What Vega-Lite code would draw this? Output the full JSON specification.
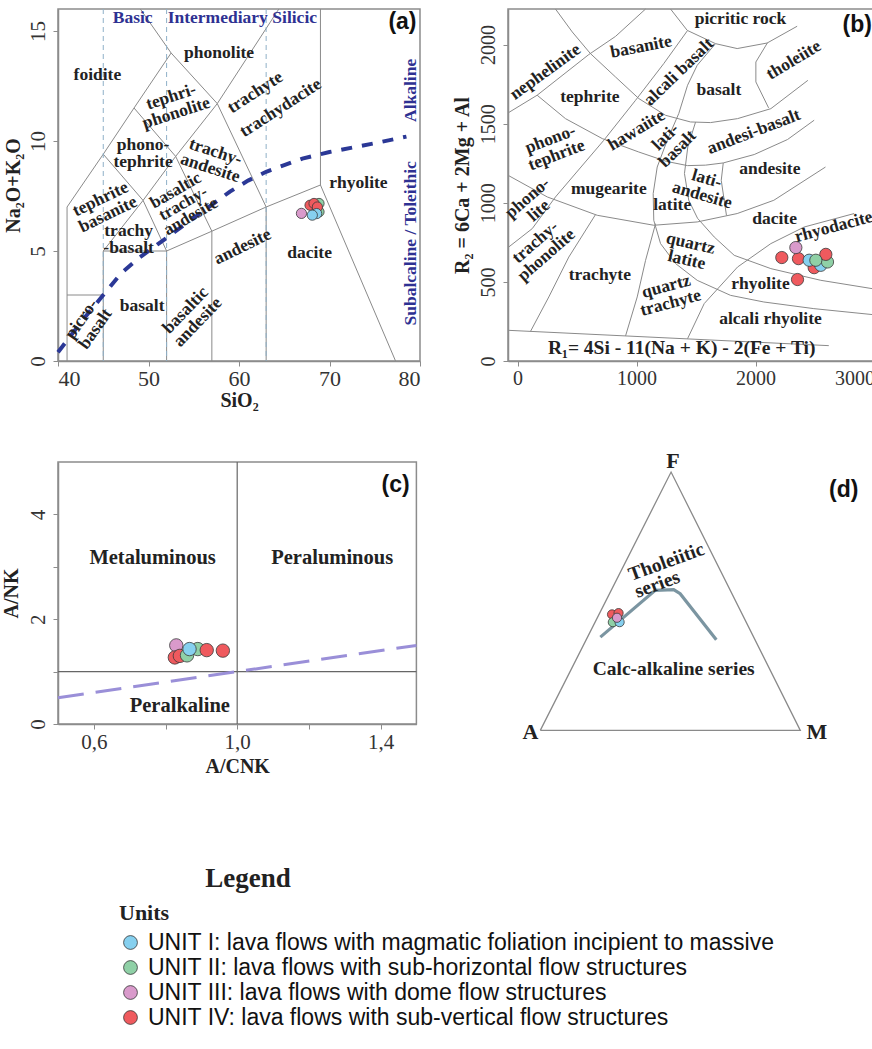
{
  "$schema": "https://vega.github.io/schema/vega-lite/v6.json",
  "background": "white",
  "padding": {"left": 0, "top": 6, "right": 0, "bottom": 0},
  "title": {"text": "Legend", "orient": "bottom", "anchor": "start", "dx": 205, "offset": -164, "font": "Liberation Serif", "fontSize": 27, "fontWeight": "bold", "color": "#222"},
  "config": {
    "font": "Liberation Serif",
    "view": {"stroke": "#8c8c8c", "strokeWidth": 1.5},
    "axis": {"grid": false, "domainColor": "#8c8c8c", "domainWidth": 1.5, "tickColor": "#8c8c8c", "tickSize": 5, "labelFont": "Liberation Serif", "labelFontSize": 20, "labelColor": "#333", "titleFont": "Liberation Serif", "titleFontSize": 20, "titleFontWeight": "bold", "titleColor": "#222"},
    "axisY": {"labelAngle": 270, "labelAlign": "center", "labelBaseline": "bottom"},
    "legend": {"orient": "none", "legendX": 61, "legendY": 894, "padding": 0, "titleFont": "Liberation Serif", "titleFontSize": 22, "titleFontWeight": "bold", "titleColor": "#222", "titlePadding": 6, "labelFont": "Liberation Sans", "labelFontSize": 23, "labelColor": "#111", "labelLimit": 900, "labelOffset": 6, "symbolType": "circle", "symbolSize": 190, "symbolStrokeColor": "#333", "symbolStrokeWidth": 1, "symbolOpacity": 1, "rowPadding": 1},
    "range": {"category": ["#86d0ef", "#8fd0a6", "#d99acb", "#ef5a5e"]},
    "point": {"filled": true, "opacity": 1, "stroke": "#3a3a3a", "strokeWidth": 0.8, "shape": "circle"},
    "text": {"font": "Liberation Serif", "fontWeight": "bold", "fontSize": 18, "color": "#222", "align": "center", "baseline": "middle", "lineBreak": "\n", "lineHeight": 17}
  },
  "datasets": {
    "tas_lines": [
      {"seg": "p1", "x": 41, "y": 0}, {"seg": "p1", "x": 41, "y": 7},
      {"seg": "p2", "x": 41, "y": 3}, {"seg": "p2", "x": 45, "y": 3},
      {"seg": "p3", "x": 45, "y": 0}, {"seg": "p3", "x": 45, "y": 5}, {"seg": "p3", "x": 52, "y": 5}, {"seg": "p3", "x": 52, "y": 0},
      {"seg": "p4", "x": 41, "y": 7}, {"seg": "p4", "x": 45, "y": 9.4}, {"seg": "p4", "x": 48.4, "y": 11.5}, {"seg": "p4", "x": 52.5, "y": 14}, {"seg": "p4", "x": 49.1, "y": 16},
      {"seg": "p5", "x": 45, "y": 5}, {"seg": "p5", "x": 49.4, "y": 7.3}, {"seg": "p5", "x": 52, "y": 5},
      {"seg": "p6", "x": 45, "y": 9.4}, {"seg": "p6", "x": 49.4, "y": 7.3}, {"seg": "p6", "x": 53, "y": 9.3}, {"seg": "p6", "x": 57.6, "y": 11.7}, {"seg": "p6", "x": 64.4, "y": 16},
      {"seg": "p7", "x": 48.4, "y": 11.5}, {"seg": "p7", "x": 53, "y": 9.3}, {"seg": "p7", "x": 57, "y": 5.9},
      {"seg": "p8", "x": 52.5, "y": 14}, {"seg": "p8", "x": 57.6, "y": 11.7}, {"seg": "p8", "x": 63, "y": 7},
      {"seg": "p9", "x": 52, "y": 5}, {"seg": "p9", "x": 57, "y": 5.9}, {"seg": "p9", "x": 63, "y": 7}, {"seg": "p9", "x": 69, "y": 8}, {"seg": "p9", "x": 77.3, "y": 0},
      {"seg": "p10", "x": 57, "y": 0}, {"seg": "p10", "x": 57, "y": 5.9},
      {"seg": "p11", "x": 63, "y": 0}, {"seg": "p11", "x": 63, "y": 7},
      {"seg": "p12", "x": 69, "y": 8}, {"seg": "p12", "x": 69, "y": 16}
    ],
    "alk_line": [
      {"x": 40, "y": 0.4}, {"x": 43, "y": 2.0}, {"x": 45, "y": 3.0}, {"x": 47, "y": 4.0}, {"x": 49, "y": 4.7}, {"x": 51, "y": 5.3}, {"x": 53, "y": 5.9}, {"x": 55, "y": 6.5}, {"x": 57, "y": 7.1}, {"x": 59, "y": 7.7}, {"x": 61, "y": 8.2}, {"x": 63, "y": 8.6}, {"x": 65, "y": 8.9}, {"x": 67, "y": 9.2}, {"x": 70, "y": 9.5}, {"x": 75, "y": 9.9}, {"x": 78.5, "y": 10.2}
    ],
    "r1r2_lines": [
      {"seg": "L1", "x": -80, "y": 1568}, {"seg": "L1", "x": 165, "y": 1680}, {"seg": "L1", "x": 599, "y": 1937}, {"seg": "L1", "x": 824, "y": 2052}, {"seg": "L1", "x": 1076, "y": 2225},
      {"seg": "L2", "x": 319, "y": 2225}, {"seg": "L2", "x": 460, "y": 2080}, {"seg": "L2", "x": 613, "y": 1943}, {"seg": "L2", "x": 824, "y": 1795}, {"seg": "L2", "x": 1019, "y": 1659}, {"seg": "L2", "x": 1244, "y": 1553}, {"seg": "L2", "x": 1454, "y": 1511}, {"seg": "L2", "x": 1622, "y": 1507}, {"seg": "L2", "x": 1849, "y": 1532}, {"seg": "L2", "x": 2129, "y": 1595}, {"seg": "L2", "x": 2440, "y": 1774},
      {"seg": "L3", "x": 165, "y": 1680}, {"seg": "L3", "x": 403, "y": 1532}, {"seg": "L3", "x": 712, "y": 1406}, {"seg": "L3", "x": 1019, "y": 1321}, {"seg": "L3", "x": 1250, "y": 1262}, {"seg": "L3", "x": 1429, "y": 1235}, {"seg": "L3", "x": 1580, "y": 1238}, {"seg": "L3", "x": 1729, "y": 1252}, {"seg": "L3", "x": 1989, "y": 1305}, {"seg": "L3", "x": 2269, "y": 1400}, {"seg": "L3", "x": 2493, "y": 1522},
      {"seg": "L4", "x": -80, "y": 1174}, {"seg": "L4", "x": 250, "y": 1037}, {"seg": "L4", "x": 670, "y": 921}, {"seg": "L4", "x": 1145, "y": 858}, {"seg": "L4", "x": 1510, "y": 879}, {"seg": "L4", "x": 1846, "y": 932}, {"seg": "L4", "x": 2154, "y": 1016}, {"seg": "L4", "x": 2588, "y": 1226},
      {"seg": "D", "x": -80, "y": 717}, {"seg": "D", "x": 124, "y": 837}, {"seg": "D", "x": 319, "y": 1037}, {"seg": "D", "x": 725, "y": 1395}, {"seg": "D", "x": 992, "y": 1648}, {"seg": "D", "x": 1229, "y": 1880}, {"seg": "D", "x": 1426, "y": 2086},
      {"seg": "L6", "x": 1286, "y": 2225}, {"seg": "L6", "x": 1426, "y": 2090}, {"seg": "L6", "x": 1664, "y": 2006}, {"seg": "L6", "x": 1846, "y": 1975}, {"seg": "L6", "x": 2098, "y": 2010}, {"seg": "L6", "x": 2350, "y": 2116},
      {"seg": "L7", "x": 2101, "y": 2012}, {"seg": "L7", "x": 2003, "y": 1890}, {"seg": "L7", "x": 2003, "y": 1764}, {"seg": "L7", "x": 2110, "y": 1600},
      {"seg": "C1", "x": 1664, "y": 2006}, {"seg": "C1", "x": 1510, "y": 1869}, {"seg": "C1", "x": 1429, "y": 1743}, {"seg": "C1", "x": 1355, "y": 1564}, {"seg": "C1", "x": 1258, "y": 1395}, {"seg": "C1", "x": 1174, "y": 1226}, {"seg": "C1", "x": 1140, "y": 1058}, {"seg": "C1", "x": 1145, "y": 889}, {"seg": "C1", "x": 1202, "y": 742}, {"seg": "C1", "x": 1328, "y": 616}, {"seg": "C1", "x": 1510, "y": 510}, {"seg": "C1", "x": 1790, "y": 415}, {"seg": "C1", "x": 2070, "y": 373}, {"seg": "C1", "x": 2490, "y": 331}, {"seg": "C1", "x": 3000, "y": 292},
      {"seg": "C2", "x": 1496, "y": 1510}, {"seg": "C2", "x": 1431, "y": 1353}, {"seg": "C2", "x": 1403, "y": 1185}, {"seg": "C2", "x": 1439, "y": 1016}, {"seg": "C2", "x": 1513, "y": 902}, {"seg": "C2", "x": 1653, "y": 784}, {"seg": "C2", "x": 1821, "y": 668}, {"seg": "C2", "x": 2129, "y": 584}, {"seg": "C2", "x": 2549, "y": 510}, {"seg": "C2", "x": 3000, "y": 455},
      {"seg": "C4", "x": 1729, "y": 1252}, {"seg": "C4", "x": 1712, "y": 1142}, {"seg": "C4", "x": 1756, "y": 920},
      {"seg": "C5", "x": 1429, "y": 141}, {"seg": "C5", "x": 1569, "y": 363}, {"seg": "C5", "x": 1849, "y": 594}, {"seg": "C5", "x": 2129, "y": 742}, {"seg": "C5", "x": 2409, "y": 847}, {"seg": "C5", "x": 2829, "y": 932},
      {"seg": "C6", "x": 908, "y": 159}, {"seg": "C6", "x": 1006, "y": 405}, {"seg": "C6", "x": 1076, "y": 636}, {"seg": "C6", "x": 1160, "y": 868},
      {"seg": "C7", "x": 109, "y": 187}, {"seg": "C7", "x": 263, "y": 405}, {"seg": "C7", "x": 431, "y": 657}, {"seg": "C7", "x": 655, "y": 925},
      {"seg": "B", "x": -80, "y": 194}, {"seg": "B", "x": 2616, "y": 97}
    ],
    "samples_a": [
      {"unit": "UNIT II: lava flows with sub-horizontal flow structures", "x": 68.84, "y": 7.16},
      {"unit": "UNIT II: lava flows with sub-horizontal flow structures", "x": 68.84, "y": 6.78},
      {"unit": "UNIT IV: lava flows with sub-vertical flow structures", "x": 67.85, "y": 7.08},
      {"unit": "UNIT IV: lava flows with sub-vertical flow structures", "x": 68.29, "y": 7.16},
      {"unit": "UNIT IV: lava flows with sub-vertical flow structures", "x": 68.66, "y": 7.0},
      {"unit": "UNIT III: lava flows with dome flow structures", "x": 66.9, "y": 6.71},
      {"unit": "UNIT I: lava flows with magmatic foliation incipient to massive", "x": 68.58, "y": 6.7},
      {"unit": "UNIT I: lava flows with magmatic foliation incipient to massive", "x": 68.1, "y": 6.63}
    ],
    "samples_b": [
      {"unit": "UNIT IV: lava flows with sub-vertical flow structures", "x": 2493, "y": 590},
      {"unit": "UNIT I: lava flows with magmatic foliation incipient to massive", "x": 2549, "y": 605},
      {"unit": "UNIT II: lava flows with sub-horizontal flow structures", "x": 2605, "y": 626},
      {"unit": "UNIT IV: lava flows with sub-vertical flow structures", "x": 2591, "y": 674},
      {"unit": "UNIT IV: lava flows with sub-vertical flow structures", "x": 2221, "y": 654},
      {"unit": "UNIT IV: lava flows with sub-vertical flow structures", "x": 2361, "y": 647},
      {"unit": "UNIT III: lava flows with dome flow structures", "x": 2339, "y": 717},
      {"unit": "UNIT I: lava flows with magmatic foliation incipient to massive", "x": 2451, "y": 637},
      {"unit": "UNIT II: lava flows with sub-horizontal flow structures", "x": 2507, "y": 637},
      {"unit": "UNIT IV: lava flows with sub-vertical flow structures", "x": 2353, "y": 515}
    ],
    "samples_c": [
      {"unit": "UNIT III: lava flows with dome flow structures", "x": 0.83, "y": 1.5},
      {"unit": "UNIT IV: lava flows with sub-vertical flow structures", "x": 0.826, "y": 1.27},
      {"unit": "UNIT IV: lava flows with sub-vertical flow structures", "x": 0.84, "y": 1.3},
      {"unit": "UNIT II: lava flows with sub-horizontal flow structures", "x": 0.86, "y": 1.31},
      {"unit": "UNIT II: lava flows with sub-horizontal flow structures", "x": 0.89, "y": 1.43},
      {"unit": "UNIT IV: lava flows with sub-vertical flow structures", "x": 0.915, "y": 1.41},
      {"unit": "UNIT IV: lava flows with sub-vertical flow structures", "x": 0.96, "y": 1.4},
      {"unit": "UNIT I: lava flows with magmatic foliation incipient to massive", "x": 0.867, "y": 1.43}
    ],
    "samples_d": [
      {"unit": "UNIT IV: lava flows with sub-vertical flow structures", "x": 27.6, "y": 44.9},
      {"unit": "UNIT IV: lava flows with sub-vertical flow structures", "x": 30.1, "y": 45.4},
      {"unit": "UNIT II: lava flows with sub-horizontal flow structures", "x": 27.9, "y": 41.9},
      {"unit": "UNIT I: lava flows with magmatic foliation incipient to massive", "x": 30.5, "y": 41.9},
      {"unit": "UNIT III: lava flows with dome flow structures", "x": 29.5, "y": 43.6}
    ]
  },
  "spacing": 38,
  "vconcat": [
    {
      "hconcat": [
        {
          "width": 362, "height": 352,
          "layer": [
            {"data": {"name": "tas_lines"}, "mark": {"type": "line", "color": "#8a8a8a", "strokeWidth": 1},
             "encoding": {
               "x": {"field": "x", "type": "quantitative", "scale": {"domain": [40, 80], "nice": false, "zero": false}, "axis": {"values": [40, 50, 60, 70, 80], "title": "SiO₂", "labelFont": "Liberation Serif", "titleFont": "Liberation Serif", "labelFontSize": 22, "titlePadding": 1}},
               "y": {"field": "y", "type": "quantitative", "scale": {"domain": [0, 16], "nice": false, "zero": false}, "axis": {"values": [0, 5, 10, 15], "title": "Na₂O+K₂O", "labelFont": "Liberation Serif", "titleFont": "Liberation Serif", "labelFontSize": 21, "labelPadding": 5, "titlePadding": 4}},
               "detail": {"field": "seg"}, "order": {"value": null}}},
            {"data": {"values": [{"x": 45}, {"x": 52}, {"x": 63}]}, "mark": {"type": "rule", "color": "#8fb0c8", "strokeWidth": 1, "strokeDash": [5, 4]},
             "encoding": {"x": {"field": "x", "type": "quantitative"}}},
            {"data": {"name": "alk_line"}, "mark": {"type": "line", "color": "#2b3896", "strokeWidth": 4, "strokeDash": [11, 10]},
             "encoding": {"x": {"field": "x", "type": "quantitative"}, "y": {"field": "y", "type": "quantitative"}, "order": {"value": null}}},
            {"data": {"values": [
               {"t": "foidite", "x": 44.35, "y": 13.0}, {"t": "phonolite", "x": 57.8, "y": 14.0}, {"t": "phono-\ntephrite", "x": 49.4, "y": 9.8},
               {"t": "trachy\n-basalt", "x": 47.8, "y": 5.9}, {"t": "dacite", "x": 67.8, "y": 4.9}, {"t": "rhyolite", "x": 73.2, "y": 8.07}, {"t": "basalt", "x": 49.3, "y": 2.5}]},
             "mark": {"type": "text", "fontSize": 17.5}, "encoding": {"x": {"field": "x", "type": "quantitative"}, "y": {"field": "y", "type": "quantitative"}, "text": {"field": "t"}}},
            {"data": {"values": [{"t": "tephri-\nphonolite", "x": 52.5, "y": 12.0}]},
             "mark": {"type": "text", "angle": 342, "fontSize": 17.5}, "encoding": {"x": {"field": "x", "type": "quantitative"}, "y": {"field": "y", "type": "quantitative"}, "text": {"field": "t"}}},
            {"data": {"values": [{"t": "trachyte", "x": 61.8, "y": 12.2}, {"t": "trachydacite", "x": 64.6, "y": 11.5}]},
             "mark": {"type": "text", "angle": 327, "fontSize": 17.5}, "encoding": {"x": {"field": "x", "type": "quantitative"}, "y": {"field": "y", "type": "quantitative"}, "text": {"field": "t"}}},
            {"data": {"values": [{"t": "trachy-\nandesite", "x": 57.4, "y": 9.5}]},
             "mark": {"type": "text", "angle": 18, "fontSize": 17.5}, "encoding": {"x": {"field": "x", "type": "quantitative"}, "y": {"field": "y", "type": "quantitative"}, "text": {"field": "t"}}},
            {"data": {"values": [{"t": "tephrite\nbasanite", "x": 44.7, "y": 7.35}, {"t": "andesite", "x": 60.4, "y": 5.19}]},
             "mark": {"type": "text", "angle": 334, "fontSize": 17.5}, "encoding": {"x": {"field": "x", "type": "quantitative"}, "y": {"field": "y", "type": "quantitative"}, "text": {"field": "t"}}},
            {"data": {"values": [{"t": "basaltic\ntrachy-\nandesite", "x": 53.0, "y": 7.75}]},
             "mark": {"type": "text", "angle": 330, "fontSize": 17, "lineHeight": 15}, "encoding": {"x": {"field": "x", "type": "quantitative"}, "y": {"field": "y", "type": "quantitative"}, "text": {"field": "t"}}},
            {"data": {"values": [{"t": "basaltic\nandesite", "x": 54.1, "y": 2.3}]},
             "mark": {"type": "text", "angle": 314, "fontSize": 17.5}, "encoding": {"x": {"field": "x", "type": "quantitative"}, "y": {"field": "y", "type": "quantitative"}, "text": {"field": "t"}}},
            {"data": {"values": [{"t": "picro-\nbasalt", "x": 42.6, "y": 1.9}]},
             "mark": {"type": "text", "angle": 305, "fontSize": 17.5}, "encoding": {"x": {"field": "x", "type": "quantitative"}, "y": {"field": "y", "type": "quantitative"}, "text": {"field": "t"}}},
            {"data": {"values": [{"t": "Basic", "x": 48.25, "y": 15.59}, {"t": "Intermediary", "x": 57.65, "y": 15.59}, {"t": "Silicic", "x": 66.15, "y": 15.59}]},
             "mark": {"type": "text", "color": "#2e3192", "fontSize": 17.5}, "encoding": {"x": {"field": "x", "type": "quantitative"}, "y": {"field": "y", "type": "quantitative"}, "text": {"field": "t"}}},
            {"data": {"values": [{"t": "Alkaline", "x": 79.0, "y": 12.3}, {"t": "Subalcaline / Toleithic", "x": 79.0, "y": 5.35}]},
             "mark": {"type": "text", "color": "#2e3192", "fontSize": 17.5, "angle": 270}, "encoding": {"x": {"field": "x", "type": "quantitative"}, "y": {"field": "y", "type": "quantitative"}, "text": {"field": "t"}}},
            {"data": {"values": [{"t": "(a)", "x": 78.06, "y": 15.42}]},
             "mark": {"type": "text", "font": "Liberation Sans", "fontSize": 23, "color": "#111"}, "encoding": {"x": {"field": "x", "type": "quantitative"}, "y": {"field": "y", "type": "quantitative"}, "text": {"field": "t"}}},
            {"data": {"name": "samples_a"}, "mark": {"type": "point", "size": 105},
             "encoding": {"x": {"field": "x", "type": "quantitative"}, "y": {"field": "y", "type": "quantitative"}, "color": {"field": "unit", "type": "nominal", "title": "Units"}}}
          ]
        },
        {
          "width": 366.5, "height": 352,
          "layer": [
            {"data": {"name": "r1r2_lines"}, "mark": {"type": "line", "color": "#8a8a8a", "strokeWidth": 1},
             "encoding": {
               "x": {"field": "x", "type": "quantitative", "scale": {"domain": [-80, 3000], "nice": false, "zero": false}, "axis": {"values": [0, 1000, 2000, 3000], "format": "d", "title": null, "labelFont": "Liberation Serif", "labelFontSize": 20, "labelFlush": true}},
               "y": {"field": "y", "type": "quantitative", "scale": {"domain": [0, 2225], "nice": false, "zero": false}, "axis": {"values": [0, 500, 1000, 1500, 2000], "format": "d", "title": "R₂ = 6Ca + 2Mg + Al", "labelFont": "Liberation Serif", "titleFont": "Liberation Serif", "labelFontSize": 20, "labelPadding": 5, "titlePadding": 6}},
               "detail": {"field": "seg"}, "order": {"value": null}}},
            {"data": {"values": [
               {"t": "picritic rock", "x": 1874, "y": 2164}, {"t": "tephrite", "x": 608, "y": 1669}, {"t": "basalt", "x": 1692, "y": 1716},
               {"t": "andesite", "x": 2120, "y": 1216}, {"t": "mugearite", "x": 767, "y": 1090}, {"t": "latite", "x": 1300, "y": 984},
               {"t": "dacite", "x": 2160, "y": 900}, {"t": "trachyte", "x": 692, "y": 542}, {"t": "rhyolite", "x": 2042, "y": 489},
               {"t": "alcali rhyolite", "x": 2126, "y": 268}]},
             "mark": {"type": "text", "fontSize": 17.5}, "encoding": {"x": {"field": "x", "type": "quantitative"}, "y": {"field": "y", "type": "quantitative"}, "text": {"field": "t"}}},
            {"data": {"values": [{"t": "R₁= 4Si - 11(Na + K) - 2(Fe + Ti)", "x": 1380, "y": 80}]},
             "mark": {"type": "text", "fontSize": 19.5}, "encoding": {"x": {"field": "x", "type": "quantitative"}, "y": {"field": "y", "type": "quantitative"}, "text": {"field": "t"}}},
            {"data": {"values": [{"t": "basanite", "x": 1039, "y": 1985}]},
             "mark": {"type": "text", "fontSize": 17.5, "angle": 349}, "encoding": {"x": {"field": "x", "type": "quantitative"}, "y": {"field": "y", "type": "quantitative"}, "text": {"field": "t"}}},
            {"data": {"values": [{"t": "nephelinite", "x": 235, "y": 1827}]},
             "mark": {"type": "text", "fontSize": 17.5, "angle": 324}, "encoding": {"x": {"field": "x", "type": "quantitative"}, "y": {"field": "y", "type": "quantitative"}, "text": {"field": "t"}}},
            {"data": {"values": [{"t": "alcali basalt", "x": 1356, "y": 1827}]},
             "mark": {"type": "text", "fontSize": 17.5, "angle": 316}, "encoding": {"x": {"field": "x", "type": "quantitative"}, "y": {"field": "y", "type": "quantitative"}, "text": {"field": "t"}}},
            {"data": {"values": [{"t": "tholeiite", "x": 2322, "y": 1901}, {"t": "hawaiite", "x": 1000, "y": 1458}]},
             "mark": {"type": "text", "fontSize": 17.5, "angle": 329}, "encoding": {"x": {"field": "x", "type": "quantitative"}, "y": {"field": "y", "type": "quantitative"}, "text": {"field": "t"}}},
            {"data": {"values": [{"t": "lati-\nbasalt", "x": 1244, "y": 1416}]},
             "mark": {"type": "text", "fontSize": 17.5, "angle": 315}, "encoding": {"x": {"field": "x", "type": "quantitative"}, "y": {"field": "y", "type": "quantitative"}, "text": {"field": "t"}}},
            {"data": {"values": [{"t": "andesi-basalt", "x": 1986, "y": 1448}, {"t": "phono-\ntephrite", "x": 277, "y": 1400}]},
             "mark": {"type": "text", "fontSize": 17.5, "angle": 339}, "encoding": {"x": {"field": "x", "type": "quantitative"}, "y": {"field": "y", "type": "quantitative"}, "text": {"field": "t"}}},
            {"data": {"values": [{"t": "lati-\nandesite", "x": 1590, "y": 1150}]},
             "mark": {"type": "text", "fontSize": 17.5, "angle": 16}, "encoding": {"x": {"field": "x", "type": "quantitative"}, "y": {"field": "y", "type": "quantitative"}, "text": {"field": "t"}}},
            {"data": {"values": [{"t": "phono-\nlite", "x": 85, "y": 1030}, {"t": "trachy-\nphonolite", "x": 150, "y": 750}]},
             "mark": {"type": "text", "fontSize": 17.5, "angle": 319}, "encoding": {"x": {"field": "x", "type": "quantitative"}, "y": {"field": "y", "type": "quantitative"}, "text": {"field": "t"}}},
            {"data": {"values": [{"t": "rhyodacite", "x": 2658, "y": 847}, {"t": "quartz\ntrachyte", "x": 1250, "y": 470}]},
             "mark": {"type": "text", "fontSize": 17.5, "angle": 345}, "encoding": {"x": {"field": "x", "type": "quantitative"}, "y": {"field": "y", "type": "quantitative"}, "text": {"field": "t"}}},
            {"data": {"values": [{"t": "quartz\nlatite", "x": 1454, "y": 742}]},
             "mark": {"type": "text", "fontSize": 17.5, "angle": 13}, "encoding": {"x": {"field": "x", "type": "quantitative"}, "y": {"field": "y", "type": "quantitative"}, "text": {"field": "t"}}},
            {"data": {"values": [{"t": "(b)", "x": 2855, "y": 2122}]},
             "mark": {"type": "text", "font": "Liberation Sans", "fontSize": 23, "color": "#111"}, "encoding": {"x": {"field": "x", "type": "quantitative"}, "y": {"field": "y", "type": "quantitative"}, "text": {"field": "t"}}},
            {"data": {"name": "samples_b"}, "mark": {"type": "point", "size": 150},
             "encoding": {"x": {"field": "x", "type": "quantitative"}, "y": {"field": "y", "type": "quantitative"}, "color": {"field": "unit", "type": "nominal", "title": "Units"}}}
          ]
        }
      ],
      "spacing": 88,
      "bounds": "flush"
    },
    {
      "hconcat": [
        {
          "width": 358.4, "height": 262,
          "layer": [
            {"data": {"values": [{"x": 1, "x2": 1, "y": 0, "y2": 5}, {"x": 0.5, "x2": 1.5, "y": 1, "y2": 1}]},
             "mark": {"type": "rule", "color": "#666", "strokeWidth": 1.2},
             "encoding": {
               "x": {"field": "x", "type": "quantitative", "scale": {"domain": [0.5, 1.5], "nice": false, "zero": false}, "axis": {"values": [0.6, 0.8, 1.0, 1.2, 1.4], "labelExpr": "datum.value === 0.8 || datum.value === 1.2 ? '' : replace(format(datum.value, '.1f'), '.', ',')", "title": "A/CNK", "labelFont": "Liberation Serif", "titleFont": "Liberation Serif", "labelFontSize": 21, "titlePadding": 4}},
               "x2": {"field": "x2"},
               "y": {"field": "y", "type": "quantitative", "scale": {"domain": [0, 5], "nice": false, "zero": false}, "axis": {"values": [0, 1, 2, 3, 4], "labelExpr": "datum.value % 2 === 0 ? datum.label : ''", "title": "A/NK", "labelFont": "Liberation Serif", "titleFont": "Liberation Serif", "labelFontSize": 21, "labelPadding": 5, "titlePadding": 6}},
               "y2": {"field": "y2"}}},
            {"data": {"values": [{"x": 0.5, "y": 0.5}, {"x": 1.5, "y": 1.5}]},
             "mark": {"type": "line", "color": "#9a8fd8", "strokeWidth": 3, "strokeDash": [26, 12]},
             "encoding": {"x": {"field": "x", "type": "quantitative"}, "y": {"field": "y", "type": "quantitative"}}},
            {"data": {"values": [{"t": "Metaluminous", "x": 0.764, "y": 3.17}, {"t": "Peraluminous", "x": 1.265, "y": 3.17}, {"t": "Peralkaline", "x": 0.84, "y": 0.35}]},
             "mark": {"type": "text", "fontSize": 20.5}, "encoding": {"x": {"field": "x", "type": "quantitative"}, "y": {"field": "y", "type": "quantitative"}, "text": {"field": "t"}}},
            {"data": {"values": [{"t": "(c)", "x": 1.442, "y": 4.57}]},
             "mark": {"type": "text", "font": "Liberation Sans", "fontSize": 23, "color": "#111"}, "encoding": {"x": {"field": "x", "type": "quantitative"}, "y": {"field": "y", "type": "quantitative"}, "text": {"field": "t"}}},
            {"data": {"name": "samples_c"}, "mark": {"type": "point", "size": 180},
             "encoding": {"x": {"field": "x", "type": "quantitative"}, "y": {"field": "y", "type": "quantitative"}, "color": {"field": "unit", "type": "nominal", "title": "Units"}}}
          ]
        },
        {
          "width": 332.8, "height": 281.3,
          "view": {"stroke": null},
          "layer": [
            {"data": {"values": [{"x": 0, "y": 0}, {"x": 100, "y": 0}, {"x": 50.3, "y": 100}, {"x": 0, "y": 0}]},
             "mark": {"type": "line", "color": "#8a8a8a", "strokeWidth": 1.3},
             "encoding": {
               "x": {"field": "x", "type": "quantitative", "scale": {"domain": [-8, 120], "nice": false, "zero": false}, "axis": null},
               "y": {"field": "y", "type": "quantitative", "scale": {"domain": [-5, 103.9], "nice": false, "zero": false}, "axis": null},
               "order": {"value": null}}},
            {"data": {"values": [{"x": 23.1, "y": 36.1}, {"x": 44.2, "y": 54.2}, {"x": 51.3, "y": 54.5}, {"x": 53.8, "y": 52.9}, {"x": 67.7, "y": 35.1}]},
             "mark": {"type": "line", "color": "#7b95a1", "strokeWidth": 3.2},
             "encoding": {"x": {"field": "x", "type": "quantitative"}, "y": {"field": "y", "type": "quantitative"}, "order": {"value": null}}},
            {"data": {"values": [{"t": "F", "x": 51.0, "y": 104.3}, {"t": "A", "x": -3.8, "y": -0.7}, {"t": "M", "x": 106.4, "y": -0.7}]},
             "mark": {"type": "text", "fontSize": 22}, "encoding": {"x": {"field": "x", "type": "quantitative"}, "y": {"field": "y", "type": "quantitative"}, "text": {"field": "t"}}},
            {"data": {"values": [{"t": "Calc-alkaline series", "x": 51.3, "y": 23.9}]},
             "mark": {"type": "text", "fontSize": 19.5}, "encoding": {"x": {"field": "x", "type": "quantitative"}, "y": {"field": "y", "type": "quantitative"}, "text": {"field": "t"}}},
            {"data": {"values": [{"t": "Tholeiitic\nseries", "x": 34.2, "y": 60.0}]},
             "mark": {"type": "text", "fontSize": 19.5, "angle": 340, "lineHeight": 18, "align": "left"}, "encoding": {"x": {"field": "x", "type": "quantitative"}, "y": {"field": "y", "type": "quantitative"}, "text": {"field": "t"}}},
            {"data": {"values": [{"t": "(d)", "x": 116.7, "y": 92.9}]},
             "mark": {"type": "text", "font": "Liberation Sans", "fontSize": 23, "color": "#111"}, "encoding": {"x": {"field": "x", "type": "quantitative"}, "y": {"field": "y", "type": "quantitative"}, "text": {"field": "t"}}},
            {"data": {"name": "samples_d"}, "mark": {"type": "point", "size": 85},
             "encoding": {"x": {"field": "x", "type": "quantitative"}, "y": {"field": "y", "type": "quantitative"}, "color": {"field": "unit", "type": "nominal", "title": "Units"}}}
          ]
        }
      ],
      "spacing": 102.5,
      "bounds": "flush"
    }
  ]
}
